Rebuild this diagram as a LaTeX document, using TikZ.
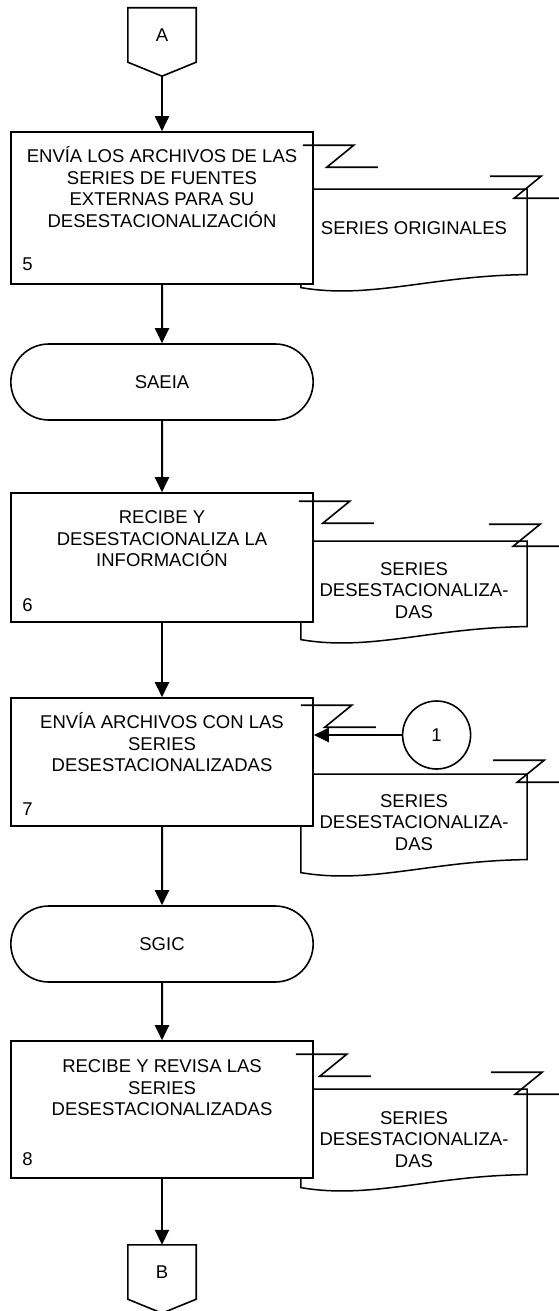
\documentclass[tikz,border=0pt]{standalone}
\usepackage{fontspec}
\setmainfont{Liberation Sans}
\usetikzlibrary{arrows.meta, positioning, shapes.misc, backgrounds}

\tikzset{
    zlink/.pic={\draw[line width=1.6pt] (0,0) -- (51,0) -- (24,-22) -- (75,-22);}
}

\begin{document}
\begin{tikzpicture}[
    x=1pt, y=1pt,
    every node/.style={font=\fontsize{18.5}{21.5}\selectfont},
    procbox/.style={draw, fill=white, line width=1.6pt, minimum width=302pt, inner sep=0pt},
    proctext/.style={align=center, inner sep=0pt},
    stepnum/.style={inner sep=0pt},
    docbox/.style={minimum width=226pt, minimum height=100pt, align=center, inner sep=0pt},
    docline/.style={line width=1.5pt},
    termbox/.style={draw, rounded rectangle, line width=1.6pt, minimum width=309pt, minimum height=76pt},
    offpage/.style={minimum width=68pt, minimum height=54pt, inner sep=0pt},
    conn/.style={draw, circle, line width=1.6pt, minimum size=68pt, inner sep=0pt},
    arrow/.style={-{Triangle[length=15pt,width=14pt]}, line width=2pt}
]
\useasboundingbox (0,0) rectangle (558,-1311);

% ------------------------
% Off-page connector A
% ------------------------
\node[offpage] (conA) at (162,-35) {A};
\coordinate (conAtip) at ([yshift=-14pt]conA.south);

% ------------------------
% Step 5
% ------------------------
\node[procbox, minimum height=152pt, below=69pt of conA] (p5) {};
\node[proctext, below=96pt of p5.north, anchor=base] (p5txt) {
ENVÍA LOS ARCHIVOS DE LAS\\
SERIES DE FUENTES\\
EXTERNAS PARA SU\\
DESESTACIONALIZACIÓN
};
\node[stepnum, above right=14.5pt and 12pt of p5.south west, anchor=base west] (p5num) {5};
\node[docbox, below right=58pt and -13pt of p5.north east, text depth=22pt] (d5) {SERIES ORIGINALES};
\pic at ([xshift=-11pt,yshift=-14pt]p5.north east) {zlink};
\pic at ([xshift=-37pt,yshift=13pt]d5.north east) {zlink};

% ------------------------
% SAEIA
% ------------------------
\node[termbox, below=58.4pt of p5] (saeia) {SAEIA};

% ------------------------
% Step 6
% ------------------------
\node[procbox, minimum height=129pt, below=71.4pt of saeia] (p6) {};
\node[proctext, below=74.5pt of p6.north, anchor=base] (p6txt) {
RECIBE Y\\
DESESTACIONALIZA LA\\
INFORMACIÓN
};
\node[stepnum, above right=11.5pt and 12pt of p6.south west, anchor=base west] (p6num) {6};
\node[docbox, below right=49pt and -13pt of p6.north east, text depth=2pt] (d6) {
SERIES\\
DESESTACIONALIZA-\\
DAS
};
\pic at ([xshift=-15pt,yshift=-9pt]p6.north east) {zlink};
\pic at ([xshift=-38pt,yshift=17pt]d6.north east) {zlink};

% ------------------------
% Step 7
% ------------------------
\node[procbox, minimum height=128pt, below=74.4pt of p6] (p7) {};
\node[proctext, below=74.5pt of p7.north, anchor=base] (p7txt) {
ENVÍA ARCHIVOS CON LAS\\
SERIES\\
DESESTACIONALIZADAS
};
\node[stepnum, above right=11.5pt and 12pt of p7.south west, anchor=base west] (p7num) {7};
\node[docbox, below right=77pt and -13pt of p7.north east, text depth=4pt] (d7) {
SERIES\\
DESESTACIONALIZA-\\
DAS
};
\pic at ([xshift=-13pt,yshift=-8pt]p7.north east) {zlink};
\pic at ([xshift=-34pt,yshift=14pt]d7.north east) {zlink};
\node[conn, right=88pt of p7.east, yshift=27pt] (c1) {1};

% ------------------------
% SGIC
% ------------------------
\node[termbox, below=78.4pt of p7] (sgic) {SGIC};

% ------------------------
% Step 8
% ------------------------
\node[procbox, minimum height=137pt, below=57.4pt of sgic] (p8) {};
\node[proctext, below=75.5pt of p8.north, anchor=base] (p8txt) {
RECIBE Y REVISA LAS\\
SERIES\\
DESESTACIONALIZADAS
};
\node[stepnum, above right=13.5pt and 12pt of p8.south west, anchor=base west] (p8num) {8};
\node[docbox, below right=49pt and -13pt of p8.north east] (d8) {
SERIES\\
DESESTACIONALIZA-\\
DAS
};
\pic at ([xshift=-18pt,yshift=-14pt]p8.north east) {zlink};
\pic at ([xshift=-36pt,yshift=17pt]d8.north east) {zlink};

% ------------------------
% Off-page connector B
% ------------------------
\node[offpage, below=66pt of p8] (conB) {B};

% ------------------------
% Document outlines (behind the boxes)
% ------------------------
\begin{scope}[on background layer]
\foreach \d in {d5, d6, d7, d8}
  \draw[docline] (\d.north west) -- (\d.north east) -- ([yshift=15pt]\d.south east)
    .. controls ([xshift=-96pt,yshift=14pt]\d.south east) and ([xshift=70pt,yshift=-10pt]\d.south west)
    .. ([yshift=2pt]\d.south west) -- cycle;
\end{scope}

\foreach \c in {conA, conB}
  \draw[line width=1.6pt] (\c.south west) -- (\c.north west) -- (\c.north east)
    -- (\c.south east) -- ([yshift=-14pt]\c.south) -- cycle;

% ------------------------
% Arrows
% ------------------------
\draw[arrow] (conAtip) -- (p5);
\draw[arrow] (p5) -- (saeia);
\draw[arrow] (saeia) -- (p6);
\draw[arrow] (p6) -- (p7);
\draw[arrow] (p7) -- (sgic);
\draw[arrow] (sgic) -- (p8);
\draw[arrow] (p8) -- (conB);
\draw[arrow] (c1.west) -- (c1.west -| p7.east);

\end{tikzpicture}
\end{document}
